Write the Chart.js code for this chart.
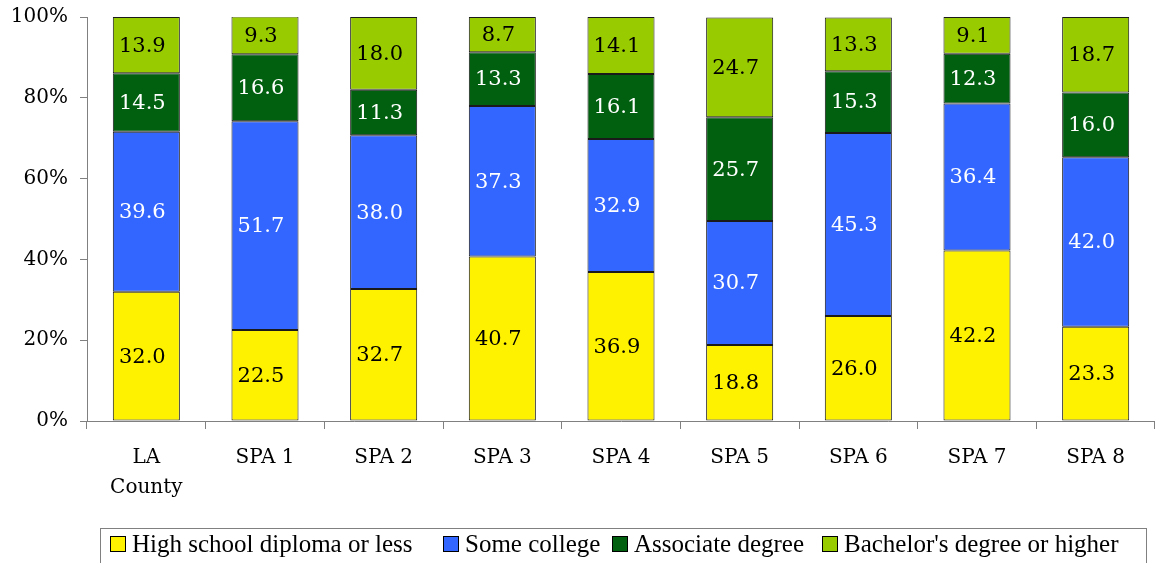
<!DOCTYPE html>
<html>
<head>
<meta charset="utf-8">
<script src="https://cdn.jsdelivr.net/npm/chart.js@4/dist/chart.umd.min.js"></script>
<style>
html,body{margin:0;padding:0;background:#fff;overflow:hidden;}
#wrap{width:1155px;height:563px;}
</style>
</head>
<body>
<div id="wrap"><canvas id="c" width="1155" height="563"></canvas></div>
<script>
const categories = [["LA","County"],"SPA 1","SPA 2","SPA 3","SPA 4","SPA 5","SPA 6","SPA 7","SPA 8"];
const highSchool = [32.0,22.5,32.7,40.7,36.9,18.8,26.0,42.2,23.3];
const someCollege = [39.6,51.7,38.0,37.3,32.9,30.7,45.3,36.4,42.0];
const associate = [14.5,16.6,11.3,13.3,16.1,25.7,15.3,12.3,16.0];
const bachelor = [13.9,9.3,18.0,8.7,14.1,24.7,13.3,9.1,18.7];
const seriesNames = ["High school diploma or less","Some college","Associate degree","Bachelor's degree or higher"];
const yTicks = [0,20,40,60,80,100];

const fills = ["#FFF200","#3366FF","#006010","#99CC00"];
const labelColors = ["#000","#fff","#fff","#000"];
const serif = "'DejaVu Serif', serif";
const legendBoxX = [110, 443, 612, 822];

const dataLabelPlugin = {
  id:'dataLabels',
  afterDatasetsDraw(chart){
    const ctx = chart.ctx;
    ctx.save();
    ctx.font = "21px " + serif;
    ctx.textAlign = 'center';
    ctx.textBaseline = 'middle';
    chart.data.datasets.forEach((ds,i)=>{
      const meta = chart.getDatasetMeta(i);
      meta.data.forEach((bar,j)=>{
        const top = Math.max(bar.y, chart.chartArea.top);
        const mid = (top + bar.base)/2;
        ctx.fillStyle = labelColors[i];
        ctx.fillText(ds.data[j].toFixed(1), bar.x - 4, mid + 1);
      });
    });
    ctx.restore();
  }
};

const legendPlugin = {
  id:'boxLegend',
  afterDraw(chart){
    const ctx = chart.ctx;
    ctx.save();
    ctx.strokeStyle = '#808080';
    ctx.lineWidth = 1;
    ctx.strokeRect(100.5, 528.5, 1046, 40);
    ctx.font = "25px 'Liberation Serif', serif";
    ctx.textBaseline = 'middle';
    ctx.textAlign = 'left';
    seriesNames.forEach((name,i)=>{
      const x = legendBoxX[i];
      ctx.fillStyle = fills[i];
      ctx.fillRect(x, 536, 16, 16);
      ctx.strokeStyle = '#000';
      ctx.strokeRect(x+0.5, 536.5, 15, 15);
      ctx.fillStyle = '#000';
      ctx.fillText(name, x + 22, 545);
    });
    ctx.restore();
  }
};

const datasets = [highSchool, someCollege, associate, bachelor].map((d,i)=>({
  label: seriesNames[i],
  data: d,
  backgroundColor: fills[i],
  borderColor: '#1a1a1a',
  borderWidth: 1,
  borderSkipped: false,
  barPercentage: 0.565,
  categoryPercentage: 1.0
}));

new Chart(document.getElementById('c'), {
  type:'bar',
  data:{labels:categories, datasets},
  options:{
    responsive:false,
    animation:false,
    layout:{padding:{top:17,left:0,right:0,bottom:35}},
    plugins:{legend:{display:false},tooltip:{enabled:false}},
    scales:{
      x:{
        stacked:true,
        afterFit(s){ s.height = 107; },
        border:{color:'#808080',width:1},
        grid:{display:true,drawOnChartArea:false,drawTicks:true,tickLength:8,color:'#808080',offset:true},
        ticks:{color:'#000',font:{family:serif,size:20,lineHeight:1.5},padding:14,maxRotation:0,autoSkip:false}
      },
      y:{
        stacked:true,
        min:0,max:100,
        afterFit(s){ s.width = 87; s.paddingTop = 0; s.paddingBottom = 0; },
        afterBuildTicks(s){ s.ticks = yTicks.map(v=>({value:v})); },
        border:{color:'#808080',width:1},
        grid:{display:true,drawOnChartArea:false,drawTicks:true,tickLength:7,color:'#808080'},
        ticks:{color:'#000',font:{family:serif,size:20},padding:12,callback:v=>v+'%'}
      }
    }
  },
  plugins:[dataLabelPlugin, legendPlugin]
});
</script>
</body>
</html>
